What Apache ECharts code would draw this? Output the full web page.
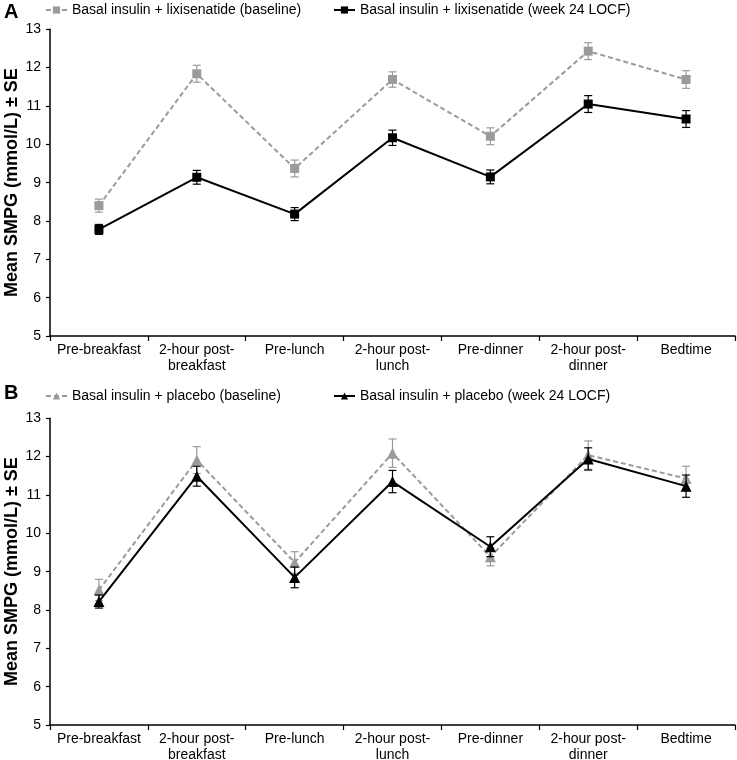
<!DOCTYPE html>
<html>
<head>
<meta charset="utf-8">
<script src="https://cdn.jsdelivr.net/npm/echarts@6/dist/echarts.min.js"></script>
<style>
html,body{margin:0;padding:0;background:#fff;}
#chart{width:737px;height:760px;}
</style>
</head>
<body>
<div id="chart"></div>
<script>
// ---- data ----
var categories = ['Pre-breakfast', '2-hour post-\nbreakfast', 'Pre-lunch', '2-hour post-\nlunch', 'Pre-dinner', '2-hour post-\ndinner', 'Bedtime'];
var yTicks = [5, 6, 7, 8, 9, 10, 11, 12, 13];

var lixiBaselineName = 'Basal insulin + lixisenatide (baseline)';
var lixiWeek24Name = 'Basal insulin + lixisenatide (week 24 LOCF)';
var placeboBaselineName = 'Basal insulin + placebo (baseline)';
var placeboWeek24Name = 'Basal insulin + placebo (week 24 LOCF)';

var lixiBaseline   = [8.40, 11.84, 9.37, 11.69, 10.21, 12.43, 11.69];
var lixiBaselineSE = [0.17, 0.22, 0.22, 0.20, 0.22, 0.22, 0.23];
var lixiWeek24     = [7.78, 9.14, 8.18, 10.17, 9.15, 11.05, 10.66];
var lixiWeek24SE   = [0.13, 0.18, 0.17, 0.20, 0.18, 0.22, 0.22];

var placeboBaseline   = [8.52, 11.91, 9.24, 12.09, 9.39, 12.04, 11.43];
var placeboBaselineSE = [0.28, 0.35, 0.28, 0.37, 0.24, 0.37, 0.32];
var placeboWeek24     = [8.22, 11.49, 8.85, 11.35, 9.65, 11.94, 11.23];
var placeboWeek24SE   = [0.17, 0.26, 0.27, 0.29, 0.26, 0.29, 0.29];

// ---- styles ----
var GREY = '#9b9b9b';
var BLACK = '#000000';
var FONT = 'Liberation Sans, Arial, sans-serif';

function errData(vals, se) {
  return vals.map(function (v, i) { return [i, v - se[i], v + se[i]]; });
}
function errSeries(idx, vals, se, color) {
  return {
    type: 'custom',
    xAxisIndex: idx, yAxisIndex: idx,
    silent: true,
    z: 3,
    data: errData(vals, se),
    encode: { x: 0, y: [1, 2] },
    renderItem: function (params, api) {
      var x = api.value(0);
      var lo = api.coord([x, api.value(1)]);
      var hi = api.coord([x, api.value(2)]);
      var w = 4;
      var st = { stroke: color, lineWidth: 1.2 };
      return {
        type: 'group',
        children: [
          { type: 'line', shape: { x1: lo[0], y1: lo[1], x2: hi[0], y2: hi[1] }, style: st },
          { type: 'line', shape: { x1: lo[0] - w, y1: lo[1], x2: lo[0] + w, y2: lo[1] }, style: st },
          { type: 'line', shape: { x1: hi[0] - w, y1: hi[1], x2: hi[0] + w, y2: hi[1] }, style: st }
        ]
      };
    }
  };
}
function lineSeries(idx, name, vals, color, dashed, symbol, size) {
  return {
    type: 'line', name: name,
    xAxisIndex: idx, yAxisIndex: idx,
    data: vals,
    symbol: symbol, symbolSize: size,
    showAllSymbol: true,
    z: dashed ? 2 : 4,
    itemStyle: { color: color, borderWidth: 0 },
    lineStyle: { color: color, width: 2, type: dashed ? [5, 3] : 'solid' },
    emphasis: { disabled: true },
    animation: false
  };
}
function xAxisDef(idx) {
  return {
    type: 'category', gridIndex: idx, data: categories, boundaryGap: true,
    axisLine: { lineStyle: { color: BLACK, width: 1.5 } },
    axisTick: { show: true, inside: false, length: 5, interval: 0, lineStyle: { color: BLACK, width: 1.2 } },
    axisLabel: { interval: 0, color: BLACK, fontSize: 14, fontFamily: FONT, lineHeight: 16, margin: 6 },
    splitLine: { show: false }
  };
}
function yAxisDef(idx) {
  return {
    type: 'value', gridIndex: idx, min: yTicks[0], max: yTicks[yTicks.length - 1], interval: 1,
    name: 'Mean SMPG (mmol/L) \u00b1 SE', nameLocation: 'middle', nameGap: 29,
    nameMoveOverlap: false,
    nameTextStyle: { color: BLACK, fontSize: 18, fontWeight: 'bold', fontFamily: FONT },
    axisLine: { show: true, lineStyle: { color: BLACK, width: 1.5 } },
    axisTick: { show: true, inside: false, length: 4, lineStyle: { color: BLACK, width: 1.2 } },
    axisLabel: { color: BLACK, fontSize: 14, fontFamily: FONT, margin: 9 },
    splitLine: { show: false }
  };
}
function legendDef(name, left, top) {
  return {
    data: [name], left: left, top: top, padding: 0,
    itemWidth: 21, itemHeight: 9, itemGap: 5,
    textStyle: { color: BLACK, fontSize: 14, fontFamily: FONT },
    selectedMode: false
  };
}

var chart = echarts.init(document.getElementById('chart'), null, { renderer: 'canvas' });
chart.setOption({
  animation: false,
  backgroundColor: '#ffffff',
  title: [
    { text: 'A', left: 4, top: 2, padding: 0, textStyle: { fontSize: 20, fontWeight: 'bold', color: BLACK, fontFamily: FONT } },
    { text: 'B', left: 4, top: 383, padding: 0, textStyle: { fontSize: 20, fontWeight: 'bold', color: BLACK, fontFamily: FONT } }
  ],
  legend: [
    legendDef(lixiBaselineName, 45, 3),
    legendDef(lixiWeek24Name, 333, 3),
    legendDef(placeboBaselineName, 45, 389),
    legendDef(placeboWeek24Name, 333, 389)
  ],
  grid: [
    { left: 50, right: 2, top: 29.3, height: 306.7, containLabel: false, outerBoundsMode: 'none' },
    { left: 50, right: 2, top: 418.3, height: 306.7, containLabel: false, outerBoundsMode: 'none' }
  ],
  xAxis: [xAxisDef(0), xAxisDef(1)],
  yAxis: [yAxisDef(0), yAxisDef(1)],
  series: [
    lineSeries(0, lixiBaselineName, lixiBaseline, GREY, true, 'rect', 9),
    errSeries(0, lixiBaseline, lixiBaselineSE, GREY),
    lineSeries(0, lixiWeek24Name, lixiWeek24, BLACK, false, 'rect', 9),
    errSeries(0, lixiWeek24, lixiWeek24SE, BLACK),
    lineSeries(1, placeboBaselineName, placeboBaseline, GREY, true, 'triangle', 11),
    errSeries(1, placeboBaseline, placeboBaselineSE, GREY),
    lineSeries(1, placeboWeek24Name, placeboWeek24, BLACK, false, 'triangle', 11),
    errSeries(1, placeboWeek24, placeboWeek24SE, BLACK)
  ]
});
</script>
</body>
</html>
